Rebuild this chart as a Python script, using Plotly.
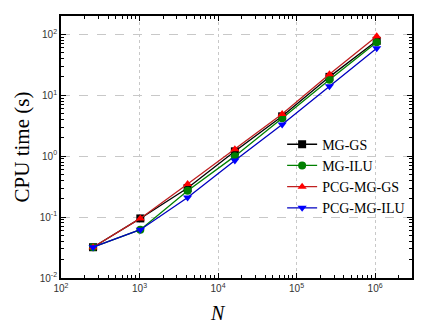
import plotly.graph_objects as go

N = [256, 1024, 4096, 16384, 65536, 262144, 1048576]
mg_gs = [0.032, 0.095, 0.30, 1.2, 4.5, 20, 78]
mg_ilu = [0.032, 0.062, 0.27, 1.0, 4.2, 18, 74]
pcg_mg_gs = [0.032, 0.095, 0.35, 1.3, 4.9, 22, 93]
pcg_mg_ilu = [0.032, 0.062, 0.21, 0.85, 3.3, 14, 59]

x_tickvals = [1e2, 1e3, 1e4, 1e5, 1e6]
x_ticktext = ["10<sup>2</sup>", "10<sup>3</sup>", "10<sup>4</sup>", "10<sup>5</sup>", "10<sup>6</sup>"]
y_tickvals = [1e-2, 1e-1, 1e0, 1e1, 1e2]
y_ticktext = ["10<sup>-2</sup>", "10<sup>-1</sup>", "10<sup>0</sup>", "10<sup>1</sup>", "10<sup>2</sup>"]

series = [
    ("MG-GS", mg_gs, "black", "square"),
    ("MG-ILU", mg_ilu, "#008000", "circle"),
    ("PCG-MG-GS", pcg_mg_gs, "#ff0000", "triangle-up"),
    ("PCG-MG-ILU", pcg_mg_ilu, "#0000ff", "triangle-down"),
]
line_cols = {"MG-GS": "black", "MG-ILU": "#008000", "PCG-MG-GS": "#c02020", "PCG-MG-ILU": "#0000c0"}

fig = go.Figure()
for name, ys, col, sym in series:
    fig.add_trace(go.Scatter(
        x=N, y=ys, name=name, mode="lines+markers",
        line=dict(color=line_cols[name], width=1.3),
        marker=dict(symbol=sym, size=8, color=col),
    ))

axis_common = dict(
    type="log", showline=True, linecolor="black", linewidth=1.8, mirror="ticks",
    ticks="inside", ticklen=5, tickwidth=1.2, tickcolor="black",
    tickfont=dict(family="Liberation Sans", size=10, color="#333"),
    minor=dict(ticks="inside", ticklen=3, tickcolor="black", dtick="D1", showgrid=False),
    showgrid=True, gridcolor="#c8c8c8", gridwidth=1, zeroline=False,
)

fig.update_xaxes(axis_common, range=[2, 6.47], griddash="dot",
                 tickmode="array", tickvals=x_tickvals, ticktext=x_ticktext)
fig.update_yaxes(axis_common, range=[-2, 2.3], griddash="dash",
                 tickmode="array", tickvals=y_tickvals, ticktext=y_ticktext,
                 title=dict(text="CPU time (s)", font=dict(family="Liberation Serif", size=21, color="black"), standoff=4))

fig.add_annotation(text="<i>N</i>", xref="paper", yref="paper", x=0.447, y=-0.135,
                   xanchor="center", yanchor="middle", showarrow=False,
                   font=dict(family="Liberation Serif", size=20, color="black"))

fig.update_layout(
    width=432, height=325,
    margin=dict(l=61, r=20, t=16, b=47),
    plot_bgcolor="white", paper_bgcolor="white",
    legend=dict(x=0.63, y=0.57, xanchor="left", yanchor="top",
                font=dict(family="Liberation Serif", size=14, color="black"),
                bgcolor="rgba(0,0,0,0)", tracegroupgap=0, itemwidth=30),
    showlegend=True,
)

fig.write_html("out.html")
